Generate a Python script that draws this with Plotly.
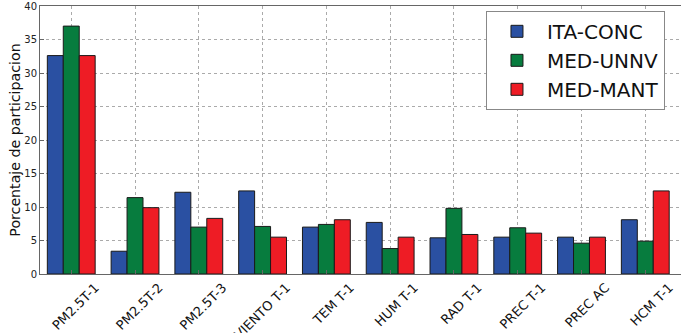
import plotly.graph_objects as go

categories = ["PM2.5T-1", "PM2.5T-2", "PM2.5T-3", "VIENTO T-1", "TEM T-1",
              "HUM T-1", "RAD T-1", "PREC T-1", "PREC AC", "HCM T-1"]
ita_conc = [32.6, 3.4, 12.2, 12.4, 7.0, 7.7, 5.4, 5.5, 5.5, 8.1]
med_unnv = [37.0, 11.4, 7.0, 7.1, 7.4, 3.8, 9.8, 6.9, 4.6, 4.9]
med_mant = [32.6, 9.9, 8.3, 5.5, 8.1, 5.5, 5.9, 6.1, 5.5, 12.4]

series = [("ITA-CONC", ita_conc, "#2a50a2"),
          ("MED-UNNV", med_unnv, "#077c3e"),
          ("MED-MANT", med_mant, "#ee1c25")]

xpos = list(range(len(categories)))

fig = go.Figure()
for i, (name, vals, col) in enumerate(series):
    fig.add_trace(go.Bar(x=xpos, y=vals, name=name, legendgroup=str(i),
                         marker=dict(color=col, line=dict(color="#1a1a1a", width=1))))

font_family = "DejaVu Sans, Verdana, sans-serif"
fig.update_layout(
    width=681, height=333,
    margin=dict(l=40, r=0, t=6, b=59, autoexpand=False),
    paper_bgcolor="white", plot_bgcolor="white",
    barmode="group", bargap=0.25, bargroupgap=0,
    font=dict(family=font_family, color="#111"),
    showlegend=True,
    legend=dict(x=0.975, xanchor="right", y=0.982, yanchor="top",
                bgcolor="white", bordercolor="#888", borderwidth=1,
                font=dict(size=20, family=font_family, color="#111"),
                itemwidth=50, tracegroupgap=0, traceorder="grouped"),
    xaxis=dict(range=[-0.49, 9.56], tickmode="array", tickvals=xpos,
               ticktext=categories, tickangle=-45, automargin=False,
               ticklabelshift=24, ticklabelstandoff=0,
               tickfont=dict(size=13, family=font_family, color="#111"),
               showgrid=True, gridcolor="#aaa", griddash="dot", gridwidth=1,
               showline=True, linecolor="#666", linewidth=1, mirror=True,
               ticks="inside", ticklen=4, tickcolor="#666", zeroline=False),
    yaxis=dict(range=[0, 40], tickmode="array", tickvals=[0, 5, 10, 15, 20, 25, 30, 35, 40],
               automargin=False,
               tickfont=dict(size=10, family=font_family, color="#222"),
               title=dict(text="Porcentaje de participacion",
                          font=dict(size=14.2, family=font_family, color="#111"), standoff=0),
               showgrid=True, gridcolor="#aaa", griddash="dot", gridwidth=1,
               showline=True, linecolor="#666", linewidth=1, mirror=True,
               ticks="inside", ticklen=4, tickcolor="#666", zeroline=False),
)

fig.write_html("out.html", config={"displayModeBar": False},
               post_script="document.body.style.margin='0';document.body.style.overflow='hidden';")
